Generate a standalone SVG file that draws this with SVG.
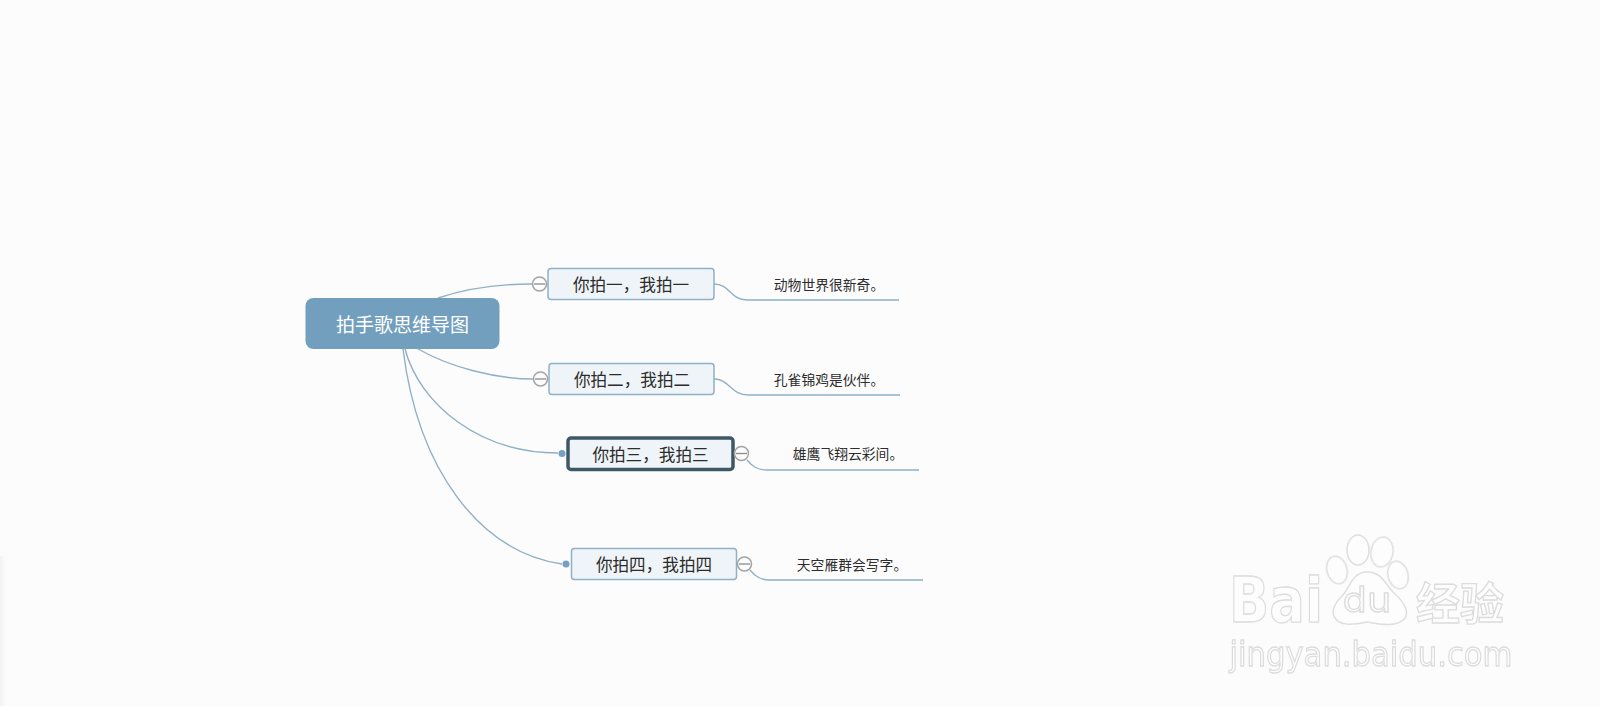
<svg xmlns="http://www.w3.org/2000/svg" width="1600" height="706" viewBox="0 0 1600 706">
<style>
text{font-family:"Noto Sans CJK SC","Liberation Sans",sans-serif;text-anchor:middle;dominant-baseline:central}
.conn{fill:none;stroke:#8fb0c6;stroke-width:1.4}
.topic{fill:#eff4f8;stroke:#8fb0c9;stroke-width:1.5}
.tt{font-size:16.6px;fill:#2c2c2c}
.leaf{font-size:13.8px;fill:#2c2c2c}
.col{fill:#fcfcfd;stroke:#a3a3a3;stroke-width:1.5}
.bar{stroke:#8a8a8a;stroke-width:1.3}
.dot{fill:#76a1bf}
.wm{fill:#fdfdfd;stroke:#dedede;stroke-width:1.5;filter:url(#soft)}
.wmt{fill:#fdfdfd;stroke:#dcdcdc;stroke-width:1.3;filter:url(#soft);font-family:"DejaVu Sans","Liberation Sans",sans-serif}
</style>
<defs>
<filter id="soft" x="-10%" y="-10%" width="120%" height="120%"><feGaussianBlur stdDeviation="0.6"/></filter>
<linearGradient id="edge" x1="0" x2="1" y1="0" y2="0"><stop offset="0" stop-color="#f2f2f2"/><stop offset="1" stop-color="#fcfcfd"/></linearGradient>
</defs>
<rect width="1600" height="706" fill="#fcfcfd"/>
<rect x="0" y="556" width="6" height="150" fill="url(#edge)"/>
<g id="connectors">
<path class="conn" d="M438 298C465 289 500 284 532 284"/>
<path class="conn" d="M418 349C450 367 495 379 533 379"/>
<path class="conn" d="M405 349C420 405 480 453 558 453"/>
<path class="conn" d="M403 349C418 470 480 552 562 564"/>
<path class="conn" d="M714 284C730 284 730 300 747 300L899 300"/>
<path class="conn" d="M714 379C730 379 730 395 749 395L900 395"/>
<path class="conn" d="M747 460C752 466 757 470 767 470L919 470"/>
<path class="conn" d="M750 570C755 576 760 580 770 580L923 580"/>
</g>
<g id="root"><rect x="305.500" y="298" width="194" height="51" rx="8" fill="#739fbf"/><text x="402.500" y="323" font-size="19" fill="#fff">拍手歌思维导图</text></g>
<g id="node1"><rect class="topic" x="548" y="268.500" width="166" height="31" rx="3"/><text class="tt" x="631" y="284">你拍一，我拍一</text><circle class="col" cx="539.500" cy="284" r="7"/><line class="bar" x1="534" y1="284" x2="545" y2="284"/></g>
<g id="node2"><rect class="topic" x="549" y="363.500" width="165" height="31" rx="3"/><text class="tt" x="632" y="379">你拍二，我拍二</text><circle class="col" cx="540.500" cy="379" r="7"/><line class="bar" x1="535" y1="379" x2="546" y2="379"/></g>
<g id="node3"><rect x="568" y="438" width="165" height="31.500" rx="3" fill="#eff4f8" stroke="#3f5868" stroke-width="3.500"/><text class="tt" x="650.500" y="453.500">你拍三，我拍三</text><circle class="dot" cx="562" cy="453.500" r="3.500"/><circle class="col" cx="741.500" cy="453.500" r="7"/><line class="bar" x1="736" y1="453.500" x2="747" y2="453.500"/></g>
<g id="node4"><rect class="topic" x="571.500" y="548.500" width="165" height="31" rx="3"/><text class="tt" x="654" y="564">你拍四，我拍四</text><circle class="dot" cx="566" cy="564" r="3.500"/><circle class="col" cx="744.500" cy="564" r="7"/><line class="bar" x1="739" y1="564" x2="750" y2="564"/></g>
<g id="leaf1"><text class="leaf" x="829" y="283.500">动物世界很新奇。</text></g>
<g id="leaf2"><text class="leaf" x="829" y="378.500">孔雀锦鸡是伙伴。</text></g>
<g id="leaf3"><text class="leaf" x="848" y="452.500">雄鹰飞翔云彩间。</text></g>
<g id="leaf4"><text class="leaf" x="852" y="563.500">天空雁群会写字。</text></g>
<g id="watermark">
<ellipse class="wm" cx="1337" cy="570" rx="10" ry="14" transform="rotate(-15 1337 570)"/>
<ellipse class="wm" cx="1358" cy="550" rx="11" ry="15"/>
<ellipse class="wm" cx="1382" cy="552" rx="11" ry="15" transform="rotate(10 1382 552)"/>
<ellipse class="wm" cx="1398" cy="575" rx="10" ry="14" transform="rotate(-15 1398 575)"/>
<path class="wm" d="M1367 572C1352 572 1350 588 1342 596C1334 604 1331 612 1335 618C1340 626 1352 625 1367 622C1382 625 1398 627 1405 618C1410 610 1402 600 1393 592C1385 584 1382 572 1367 572Z"/>
<text class="wmt" x="1276" y="600" font-size="62" font-weight="700" textLength="94" lengthAdjust="spacingAndGlyphs">Bai</text>
<text class="wmt" x="1367" y="600" font-size="34" textLength="49" lengthAdjust="spacingAndGlyphs">du</text>
<text class="wmt" x="1460" y="601" font-size="44" font-weight="700" style="font-family:'Noto Sans CJK SC',sans-serif">经验</text>
<text class="wmt" x="1371" y="654" font-size="34" textLength="283" lengthAdjust="spacingAndGlyphs">jingyan.baidu.com</text>
</g>
</svg>
